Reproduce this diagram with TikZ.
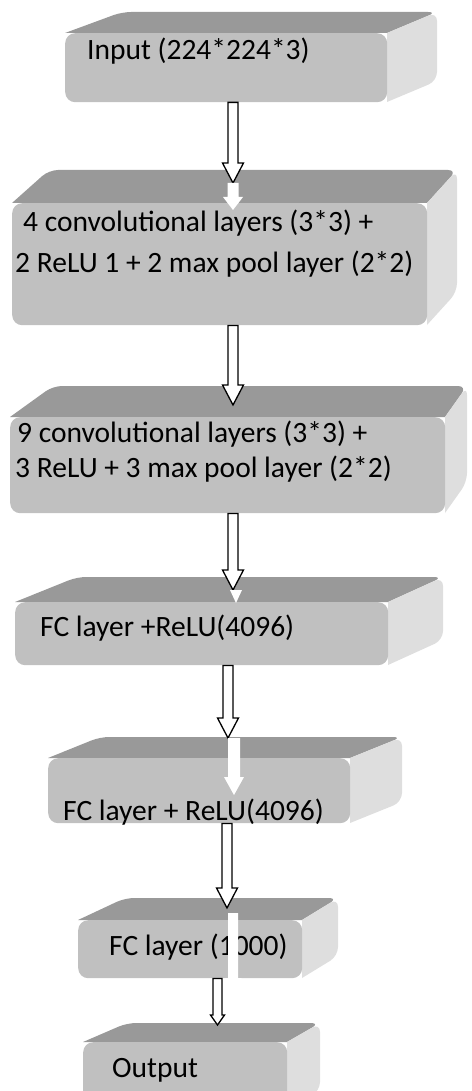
\documentclass[tikz,border=0pt]{standalone}
\usepackage{fontspec}
\setmainfont{Carlito}
\usepackage{xcolor}
\usetikzlibrary{calc}
\definecolor{frontgray}{RGB}{192,192,192}
\definecolor{topgray}{RGB}{153,153,153}
\definecolor{sidegray}{RGB}{222,222,222}

% 3d layer: name, front corners (x1,y1) (x2,y2), left/right depth, rise
\newcommand\layerbox[8]{%
  \fill[topface] (#2,#3) [rounded corners=9pt] -- (#2+#6,#3-#8) -- (#4+#7,#3-#8)
    [sharp corners] -- (#4,#3) -- cycle;
  \fill[sideface] (#4,#3) [rounded corners=9pt] -- (#4+#7,#3-#8) -- (#4+#7,#5-#8)
    [sharp corners] -- (#4,#5) -- cycle;
  \node[frontface, minimum width=#4pt-#2pt, minimum height=#5pt-#3pt,
        anchor=north west] (#1) at (#2,#3) {};}

% hollow block arrow: tail, tip, shaft half width, head half width, head length
\newcommand\blockarrow[6][]{%
  \path[#1] let \p1=(#2), \p2=(#3) in
    (\x2-#4pt,\y1) -- (\x2+#4pt,\y1) -- (\x2+#4pt,\y2+#6pt) -- (\x2+#5pt,\y2+#6pt)
    -- (\x2,\y2) -- (\x2-#5pt,\y2+#6pt) -- (\x2-#4pt,\y2+#6pt) -- cycle;}

\begin{document}
\begin{tikzpicture}[x=1pt, y=-1pt,
  topface/.style={fill=topgray},
  sideface/.style={fill=sidegray},
  frontface/.style={rectangle, rounded corners=10pt, fill=frontgray, inner sep=0pt},
  txt/.style={anchor=base west, inner sep=0pt, font=\fontsize{29.5}{35}\selectfont},
  hollow/.style={draw=black, fill=white, line width=1.3pt, line join=miter},
  ghost/.style={fill=white}]
  \clip (0,0) rectangle (471,1091);

  \layerbox{input}{65}{33}{387}{102}{57}{50}{21}
  \layerbox{convA}{12}{203}{427}{325}{37}{30}{33}
  \layerbox{convB}{10}{417}{445}{513}{43}{22}{31}
  \layerbox{fcA}{15}{602}{388}{665}{62}{55}{25}
  \layerbox{fcB}{48}{758}{350}{823}{52}{52}{21}
  \layerbox{fcC}{78}{920}{302}{978}{47}{36}{22}
  \layerbox{output}{83}{1042}{287}{1110}{44}{33}{19}

  \node[txt] (input-t) at ($(input.north west)+(22,27)$) {Input (224*224*3)};
  \node[txt] (convA-t1) at ($(convA.north west)+(11,29)$) {4 convolutional layers (3*3) +};
  \node[txt] (convA-t2) at ($(convA.north west)+(3,69)$) {2 ReLU 1 + 2 max pool layer (2*2)};
  \node[txt] (convB-t1) at ($(convB.north west)+(7,25)$) {9 convolutional layers (3*3) +};
  \node[txt] (convB-t2) at ($(convB.north west)+(5,60)$) {3 ReLU + 3 max pool layer (2*2)};
  \node[txt] (fcA-t) at ($(fcA.north west)+(25,34)$) {FC layer +ReLU(4096)};
  \node[txt] (fcB-t) at ($(fcB.north west)+(15,62)$) {FC layer + ReLU(4096)};
  \node[txt] (fcC-t) at ($(fcC.north west)+(31,35)$) {FC layer (1000)};
  \node[txt] (output-t) at ($(output.north west)+(29,35)$) {Output};

  % arrow tips
  \coordinate (tipA) at (233,183);
  \coordinate (tipB) at (233,405);
  \coordinate (tipC) at (233,590);
  \coordinate (tipD) at (228,738);
  \coordinate (tipE) at (227,908);
  \coordinate (tipF) at (217.5,1025);

  \blockarrow[hollow]{input.south -| tipA}{tipA}{5}{10.5}{20}
  \blockarrow[hollow]{convA.south -| tipB}{tipB}{5}{10.5}{20}
  \blockarrow[hollow]{convB.south -| tipC}{tipC}{5}{10.5}{20}
  \blockarrow[hollow]{fcA.south -| tipD}{tipD}{5}{10.5}{20}
  \blockarrow[hollow]{fcB.south -| tipE}{tipE}{5}{10.5}{20}
  \blockarrow[hollow]{fcC.south -| tipF}{tipF}{4.5}{7}{10}

  % white fill showing through the boxes
  \coordinate (ghostA) at (233,210);
  \coordinate (ghostC) at (236,603);
  \coordinate (ghostD) at (234,795);
  \coordinate (ghostE) at (233,986);
  \blockarrow[ghost]{tipA}{ghostA}{5.5}{10}{13}
  \blockarrow[ghost]{tipC}{ghostC}{0}{6}{13}
  \blockarrow[ghost]{tipD}{ghostD}{6}{10}{18}
  \blockarrow[ghost]{$(tipE)+(6,5)$}{ghostE}{5}{9}{8}
\end{tikzpicture}
\end{document}
